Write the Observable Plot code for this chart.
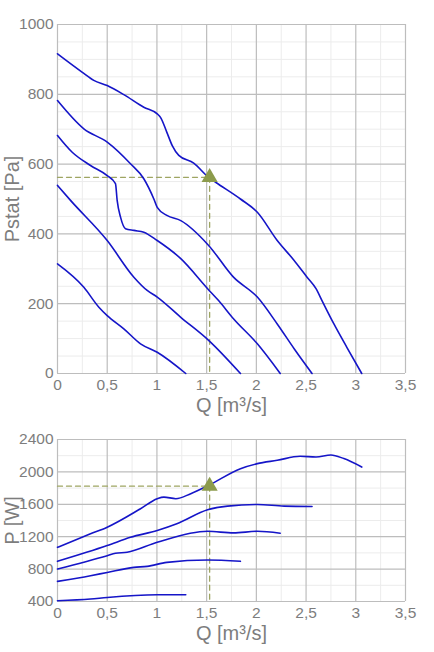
<!DOCTYPE html>
<html><head><meta charset="utf-8">
<script src="https://cdn.jsdelivr.net/npm/d3@7"></script>
<script src="https://cdn.jsdelivr.net/npm/@observablehq/plot@0.6"></script>
<style>
body{margin:0;background:#fff;font-family:"Liberation Sans",Arial,sans-serif;}
#c svg{display:block;}
</style></head><body><div id="c"></div>
<script>
// Pressure curves (Q [m³/s], Pstat [Pa])
const p1Q=[0,0.25,0.365,0.5,0.667,0.868,1.003,1.036,1.10,1.154,1.22,1.37,1.52,1.59,1.84,2.01,2.21,2.38,2.51,2.60,2.66,2.78,2.91,3.06];
const p1P=[916,863,840,825,799,763,744,734,691,653,625,603,562,548,500,462,381,324,276,243,209,142,75,0];
const p2Q=[0,0.265,0.5,0.734,0.868,0.969,1.003,1.10,1.24,1.52,1.77,2.01,2.21,2.38,2.56];
const p2P=[782,701,663,601,558,500,476,453,438,367,276,219,142,71,0];
const p3Q=[0,0.148,0.332,0.5,0.583,0.60,0.634,0.684,0.768,0.868,1.003,1.24,1.51,1.62,1.77,2.01,2.24];
const p3P=[682,634,596,567,544,496,448,415,410,405,381,329,243,209,157,85,0];
const p4Q=[0,0.131,0.5,0.768,0.902,1.003,1.24,1.52,1.84];
const p4P=[539,496,381,276,238,219,161,95,0];
const p5Q=[0,0.265,0.416,0.5,0.667,0.835,1.003,1.29];
const p5P=[314,247,190,166,128,85,61,0];
// Power curves (Q [m³/s], P [W])
const w1Q=[0,0.332,0.5,0.835,1.003,1.07,1.19,1.34,1.52,1.84,2.01,2.21,2.44,2.60,2.75,2.88,3.06];
const w1P=[1069,1235,1317,1545,1669,1689,1669,1731,1834,2040,2102,2143,2193,2184,2209,2164,2060];
const w2Q=[0,0.5,0.734,1.003,1.20,1.51,1.71,2.01,2.28,2.56];
const w2P=[896,1090,1193,1276,1359,1532,1577,1598,1577,1573];
const w3Q=[0,0.5,0.583,0.70,1.003,1.51,1.77,2.01,2.24];
const w3P=[801,966,995,1007,1131,1267,1247,1267,1243];
const w4Q=[0,0.332,0.5,0.768,0.902,1.10,1.51,1.84];
const w4P=[648,718,759,821,834,883,913,896];
const w5Q=[0,0.332,0.5,1.003,1.29];
const w5P=[409,430,450,483,483];
// Operating point
const opQ=1.53, opP=562, opW=1824;
// Ticks
const xTicks=[0,0.5,1,1.5,2,2.5,3,3.5];
const xMinor=[0.25,0.75,1.25,1.75,2.25,2.75,3.25];
const pTicks=[0,200,400,600,800,1000];
const pMinor=[50,100,150,250,300,350,450,500,550,650,700,750,850,900,950];
const wTicks=[400,800,1200,1600,2000,2400];
const wMinor=[600,1000,1400,1800,2200];

const toRows=(q,v,id)=>q.map((d,i)=>({q:d,v:v[i],id}));
const pData=[...toRows(p1Q,p1P,1),...toRows(p2Q,p2P,2),...toRows(p3Q,p3P,3),...toRows(p4Q,p4P,4),...toRows(p5Q,p5P,5)];
const wData=[...toRows(w1Q,w1P,1),...toRows(w2Q,w2P,2),...toRows(w3Q,w3P,3),...toRows(w4Q,w4P,4),...toRows(w5Q,w5P,5)];
const fmtX=d=>String(d).replace(".",",");
const fmtY=d=>String(d);
const lineCol="#1515c8", opCol="#8c9b4c", dashCol="#9ea562";
const textCol="#7d7d7d";

function panel(data,yDom,yTicks,yMinor,yLabel,yOp,h,mt,mb){
  const y0=yDom[0];
  return Plot.plot({
    width:434,height:h,marginLeft:57,marginRight:29,marginTop:mt,marginBottom:mb,
    style:{fontFamily:'"Liberation Sans",Arial,sans-serif',fontSize:"15.5px",color:textCol,background:"#fff"},
    x:{domain:[0,3.5]},
    y:{domain:yDom},
    marks:[
      Plot.ruleX(xMinor,{stroke:"#ececec",strokeWidth:1}),
      Plot.ruleY(yMinor,{stroke:"#ececec",strokeWidth:1}),
      Plot.ruleX(xTicks,{stroke:"#bdbdbd",strokeWidth:1.2}),
      Plot.ruleY(yTicks,{stroke:"#bdbdbd",strokeWidth:1.2}),
      Plot.axisX({ticks:xTicks,tickFormat:fmtX,tickSize:0,tickPadding:5,fontSize:15.5,label:"Q [m³/s]",labelAnchor:"center",labelOffset:38,labelArrow:"none"}),
      Plot.axisY({ticks:yTicks,tickFormat:fmtY,tickSize:0,tickPadding:4,fontSize:15.5,label:yLabel,labelAnchor:"center",labelOffset:53,labelArrow:"none"}),
      Plot.line([[0,yOp],[opQ,yOp]],{x:d=>d[0],y:d=>d[1],stroke:dashCol,strokeWidth:1.3,strokeDasharray:"5,4"}),
      Plot.line([[opQ,yOp],[opQ,y0]],{x:d=>d[0],y:d=>d[1],stroke:dashCol,strokeWidth:1.3,strokeDasharray:"5,4"}),
      Plot.line(data,{x:"q",y:"v",z:"id",stroke:lineCol,strokeWidth:1.6,curve:"monotone-x"}),
      Plot.dot([[opQ,yOp]],{x:d=>d[0],y:d=>d[1],symbol:"triangle",r:6,fill:opCol,stroke:"none"})
    ]
  });
}
const c=document.getElementById("c");
c.append(panel(pData,[0,1000],pTicks,pMinor,"Pstat [Pa]",opP,420,24,47));
c.append(panel(wData,[400,2400],wTicks,wMinor,"P [W]",opW,232,19,51));
document.querySelectorAll("svg g[aria-label='x-axis label'] text, svg g[aria-label='y-axis label'] text").forEach(t=>t.setAttribute("font-size","20"));
</script></body></html>
